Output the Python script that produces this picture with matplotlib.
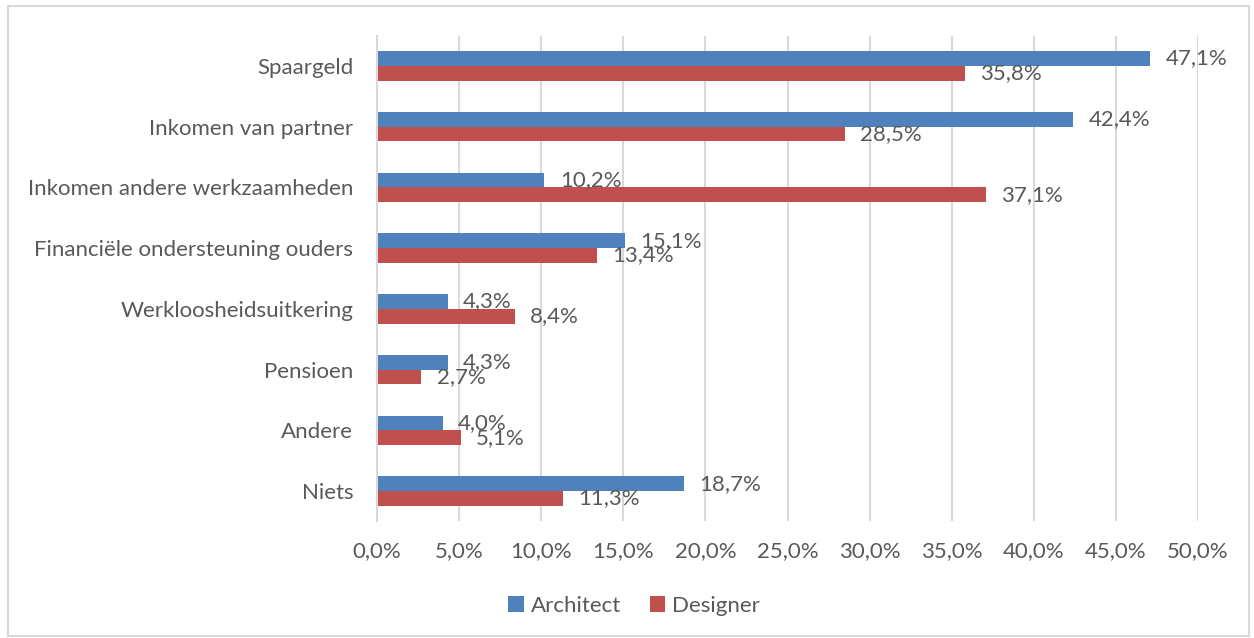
import matplotlib
matplotlib.use("Agg")
import matplotlib.pyplot as plt
import numpy as np
from matplotlib.patches import Rectangle

categories = ["Spaargeld", "Inkomen van partner", "Inkomen andere werkzaamheden",
              "Financiële ondersteuning ouders", "Werkloosheidsuitkering", "Pensioen",
              "Andere", "Niets"]
architect = [47.1, 42.4, 10.2, 15.1, 4.3, 4.3, 4.0, 18.7]
designer = [35.8, 28.5, 37.1, 13.4, 8.4, 2.7, 5.1, 11.3]
series_names = ["Architect", "Designer"]
xticks = [0, 5, 10, 15, 20, 25, 30, 35, 40, 45, 50]

blue = "#4F81BD"
red = "#C0504D"
txt = "#595959"
fs = 16

plt.rcParams['font.family'] = ['Lato', 'DejaVu Sans']

fig = plt.figure(figsize=(12.54, 6.38), dpi=100)
ax = fig.add_axes([377/1254, 1-521.4/638, 821/1254, (521.4-35.6)/638])

n = len(categories)
y = np.arange(n)
h = 0.243
ax.barh(y - h/2, architect, height=h, color=blue, label=series_names[0], zorder=3)
ax.barh(y + h/2, designer, height=h, color=red, label=series_names[1], zorder=3)

for yi, v in zip(y - h/2, architect):
    ax.annotate(f"{v:.1f}%".replace(".", ","), (v, yi), xytext=(11, 0), textcoords="offset points",
                va="center", ha="left", fontsize=fs, color=txt, zorder=4)
for yi, v in zip(y + h/2, designer):
    ax.annotate(f"{v:.1f}%".replace(".", ","), (v, yi), xytext=(11, 0), textcoords="offset points",
                va="center", ha="left", fontsize=fs, color=txt, zorder=4)

ax.set_ylim(n - 0.5, -0.5)
ax.set_yticks(y)
ax.set_yticklabels(categories, fontsize=fs, color=txt)
ax.set_xlim(0, 50)
ax.set_xticks(xticks)
ax.set_xticklabels([f"{t:.1f}%".replace(".", ",") for t in xticks], fontsize=fs, color=txt)
ax.tick_params(axis="y", length=0, pad=17)
ax.tick_params(axis="x", length=0, pad=14)
ax.grid(axis="x", color="#D9D9D9", linewidth=1.5, zorder=0)
for s in ["top", "right", "bottom"]:
    ax.spines[s].set_visible(False)
ax.spines["left"].set_color("#D9D9D9")
ax.spines["left"].set_linewidth(1.5)
ax.spines["left"].set_zorder(5)

leg = fig.legend(loc="center", bbox_to_anchor=(634/1254, 1-606/638), ncol=2, frameon=False,
                 fontsize=fs, handlelength=0.7, handleheight=0.7, handletextpad=0.3,
                 columnspacing=1.3)
for t in leg.get_texts():
    t.set_color(txt)

fig.patches.append(Rectangle((8/1254, 1-636/638), 1241/1254, 630/638, transform=fig.transFigure,
                             fill=False, edgecolor="#D9D9D9", linewidth=1.5))

fig.savefig("out.png", dpi=100, facecolor="white")
